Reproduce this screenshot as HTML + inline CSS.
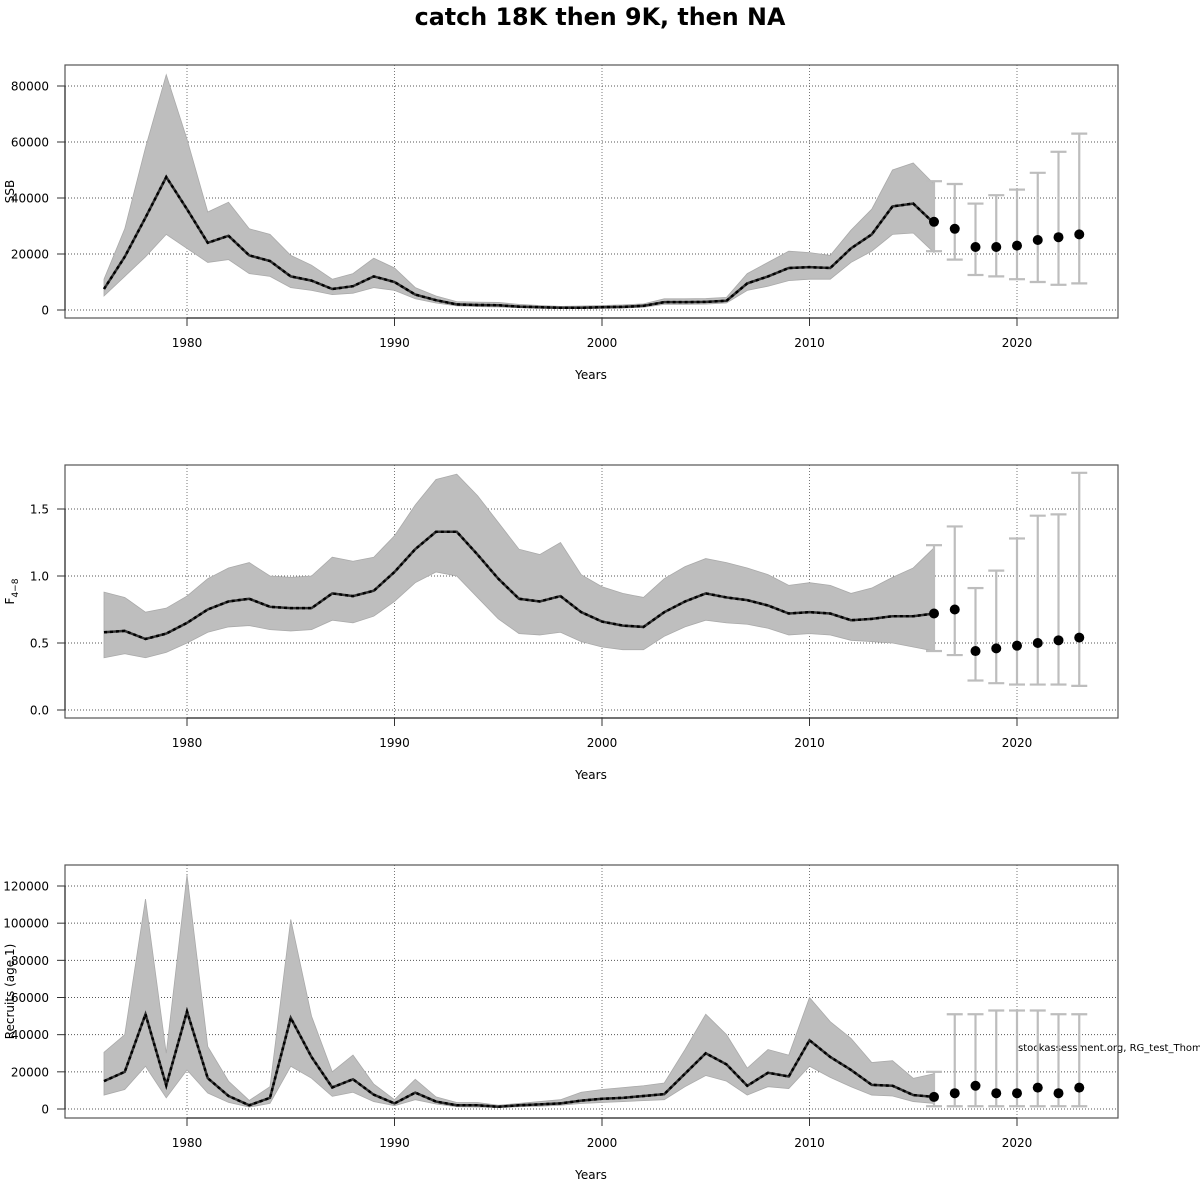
<!DOCTYPE html>
<html><head><meta charset="utf-8">
<style>
html,body{margin:0;padding:0;background:#fff;}
svg{display:block;font-family:"DejaVu Sans","Liberation Sans",sans-serif;}
</style></head>
<body>
<svg id="chart" width="1200" height="1200" viewBox="0 0 1200 1200">
<text x="600" y="25" text-anchor="middle" font-size="23.8" font-weight="bold">catch 18K then 9K, then NA</text>
<text x="1018" y="1051" font-size="10">stockassessment.org, RG_test_Thom</text>
</svg>
<script>
const years = [1976,1977,1978,1979,1980,1981,1982,1983,1984,1985,1986,1987,1988,1989,1990,1991,1992,1993,1994,1995,1996,1997,1998,1999,2000,2001,2002,2003,2004,2005,2006,2007,2008,2009,2010,2011,2012,2013,2014,2015,2016];
const projYears = [2016,2017,2018,2019,2020,2021,2022,2023];
const xTicks = [1980,1990,2000,2010,2020];

const ssbEst = [7500,19000,33000,47500,36000,24000,26500,19500,17500,12000,10500,7500,8500,12000,10000,5500,3500,2000,1800,1700,1200,1000,800,800,1000,1100,1500,2800,2800,2900,3300,9500,12000,15000,15300,15000,22000,27000,37000,38000,31000];
const ssbLo = [5000,12000,19000,27000,22000,17000,18000,13000,12000,8000,7000,5500,6000,8000,7000,4000,2500,1500,1200,1100,800,600,500,500,600,700,1000,2000,2000,2100,2500,7000,8500,10500,11000,11000,17000,21000,27000,27500,20500];
const ssbHi = [11000,29000,58000,84000,61000,35000,38500,29000,27000,19500,16000,11000,13000,18500,15000,8000,5000,3000,2800,2700,2000,1600,1300,1400,1600,1800,2200,4000,4000,4100,4500,13000,17000,21000,20500,19500,28500,36000,50000,52500,45000];
const ssbProj = [31500,29000,22500,22500,23000,25000,26000,27000];
const ssbProjLo = [21000,18000,12500,12000,11000,10000,9000,9500];
const ssbProjHi = [46000,45000,38000,41000,43000,49000,56500,63000];
const ssbTicks = [0,20000,40000,60000,80000];

const fEst = [0.58,0.59,0.53,0.57,0.65,0.75,0.81,0.83,0.77,0.76,0.76,0.87,0.85,0.89,1.03,1.2,1.33,1.33,1.16,0.98,0.83,0.81,0.85,0.73,0.66,0.63,0.62,0.73,0.81,0.87,0.84,0.82,0.78,0.72,0.73,0.72,0.67,0.68,0.7,0.7,0.72];
const fLo = [0.39,0.42,0.39,0.43,0.5,0.58,0.62,0.63,0.6,0.59,0.6,0.67,0.65,0.7,0.81,0.95,1.03,1.0,0.84,0.68,0.57,0.56,0.58,0.51,0.47,0.45,0.45,0.55,0.62,0.67,0.65,0.64,0.61,0.56,0.57,0.56,0.52,0.51,0.5,0.47,0.44];
const fHi = [0.88,0.84,0.73,0.76,0.85,0.98,1.06,1.1,1.0,0.99,1.0,1.14,1.11,1.14,1.3,1.53,1.72,1.76,1.6,1.4,1.2,1.16,1.25,1.01,0.92,0.87,0.84,0.98,1.07,1.13,1.1,1.06,1.01,0.93,0.95,0.93,0.87,0.91,0.99,1.06,1.21];
const fProj = [0.72,0.75,0.44,0.46,0.48,0.5,0.52,0.54];
const fProjLo = [0.44,0.41,0.22,0.2,0.19,0.19,0.19,0.18];
const fProjHi = [1.23,1.37,0.91,1.04,1.28,1.45,1.46,1.77];
const fTicks = [0.0,0.5,1.0,1.5];
const fTickLabels = ["0.0","0.5","1.0","1.5"];

const recEst = [15000,20000,51000,12700,52500,16600,7000,2000,6000,49000,28000,11600,16000,7700,3000,8800,4000,2000,2000,1200,2000,2500,3000,4500,5500,6000,7000,8000,19000,30000,24000,12500,19500,17500,37000,28000,21000,13000,12500,7500,6500];
const recLo = [7500,10500,23000,6000,21000,8600,3600,1000,3000,23000,16600,6800,9000,4000,1800,5000,2700,1200,1000,800,1200,1500,2000,3000,3500,4000,4500,5000,12000,18000,15000,7500,12000,11000,23000,17000,12000,7500,7000,4000,3000];
const recHi = [30500,40000,113000,30000,126000,33600,15000,4600,12000,102000,50000,20000,29000,13400,5000,16000,6500,3500,3500,2000,3000,4000,5000,9000,10500,11500,12500,14000,32000,51000,40000,22000,32000,29000,60000,47000,38000,25000,26000,16500,19000];
const recProj = [6500,8500,12500,8500,8500,11500,8500,11500];
const recProjLo = [1500,1500,1500,1500,1500,1500,1500,1500];
const recProjHi = [20000,51000,51000,53000,53000,53000,51000,51000];
const recTicks = [0,20000,40000,60000,80000,100000,120000];

const NS = "http://www.w3.org/2000/svg";
const svg = document.getElementById('chart');
function mk(tag, attrs, parent){
  const e = document.createElementNS(NS, tag);
  for (const k in attrs) e.setAttribute(k, attrs[k]);
  (parent||svg).appendChild(e);
  return e;
}
const X0 = 65, X1 = 1118;
function xs(yr){ return 187 + (yr - 1980) * 20.75; }

function panel(opt){
  const g = mk('g', {});
  
  
  const ys = v => opt.zeroY - (v - opt.zero) * opt.scale;
  xTicks.forEach(t => {
    const l = mk('line', {x1:xs(t), x2:xs(t), y1:opt.top, y2:opt.bot, stroke:'#777', 'stroke-width':1, 'stroke-dasharray':'1,2'}, g);
    
    
  });
  opt.ticks.forEach(t => {
    const l = mk('line', {x1:X0, x2:X1, y1:ys(t), y2:ys(t), stroke:'#555', 'stroke-width':1, 'stroke-dasharray':'1,2'}, g);
    
    
  });
  let pts = years.map((y,i) => xs(y)+','+ys(opt.hi[i]));
  pts = pts.concat(years.map((y,i) => xs(y)+','+ys(opt.lo[i])).reverse());
  const band = mk('polygon', {points:pts.join(' '), fill:'#bebebe', stroke:'#aaa', 'stroke-width':0.8}, g);
  
  
  const lp = years.map((y,i) => xs(y)+','+ys(opt.est[i])).join(' ');
  const l1 = mk('polyline', {points:lp, fill:'none', stroke:'#333', 'stroke-width':2.5}, g);
  
  
  const l2 = mk('polyline', {points:lp, fill:'none', stroke:'#000', 'stroke-width':2.5, 'stroke-dasharray':'3,3'}, g);
  
  
  projYears.forEach((y,i) => {
    const x = xs(y);
    const eb = mk('g', {stroke:'#bdbdbd', 'stroke-width':2.2}, g);
    
    
    mk('line', {x1:x, x2:x, y1:ys(opt.pLo[i]), y2:ys(opt.pHi[i])}, eb);
    mk('line', {x1:x-8, x2:x+8, y1:ys(opt.pLo[i]), y2:ys(opt.pLo[i])}, eb);
    mk('line', {x1:x-8, x2:x+8, y1:ys(opt.pHi[i]), y2:ys(opt.pHi[i])}, eb);
  });
  projYears.forEach((y,i) => {
    const c = mk('circle', {cx:xs(y), cy:ys(opt.proj[i]), r:5, fill:'#000'}, g);
    
    
  });
  const box = mk('rect', {x:X0, y:opt.top, width:X1-X0, height:opt.bot-opt.top, fill:'none', stroke:'#555', 'stroke-width':1.2}, g);
  
  
  const xa = mk('g', {}, g);
  
  
  mk('line', {x1:xs(xTicks[0]), x2:xs(xTicks[xTicks.length-1]), y1:opt.bot, y2:opt.bot, stroke:'#333', 'stroke-width':1.2}, xa);
  xTicks.forEach(t => {
    mk('line', {x1:xs(t), x2:xs(t), y1:opt.bot, y2:opt.bot+8, stroke:'#333', 'stroke-width':1}, xa);
    const tx = mk('text', {x:xs(t), y:opt.bot+29, 'font-size':12, 'text-anchor':'middle'}, xa);
    tx.textContent = t;
    
    
  });
  const xt = mk('text', {x:591, y:opt.bot+61, 'font-size':12, 'text-anchor':'middle'}, xa);
  xt.textContent = 'Years';
  
  
  const ya = mk('g', {}, g);
  
  
  mk('line', {x1:X0, x2:X0, y1:ys(opt.ticks[0]), y2:ys(opt.ticks[opt.ticks.length-1]), stroke:'#333', 'stroke-width':1.2}, ya);
  opt.ticks.forEach((t,i) => {
    mk('line', {x1:X0-8, x2:X0, y1:ys(t), y2:ys(t), stroke:'#333', 'stroke-width':1}, ya);
    const tx = mk('text', {x:49, y:ys(t)+4.5, 'font-size':12, 'text-anchor':'end'}, ya);
    tx.textContent = opt.labels ? opt.labels[i] : t;
    
    
  });
  const cy = (opt.top + opt.bot)/2;
  const yt = mk('text', {x:0, y:0, 'font-size':12, 'text-anchor':'middle', transform:'translate(14,'+cy+') rotate(-90)'}, ya);
  
  
  if (opt.sub) {
    const a = mk('tspan', {}, yt); a.textContent = opt.ytitle;
    const b = mk('tspan', {'font-size':9, dy:4}, yt); b.textContent = opt.sub;
  } else yt.textContent = opt.ytitle;
}

panel({name:'ssb', top:65, bot:318, zero:0, zeroY:310, scale:224/80000, ticks:ssbTicks, est:ssbEst, lo:ssbLo, hi:ssbHi, proj:ssbProj, pLo:ssbProjLo, pHi:ssbProjHi, ytitle:'SSB'});
panel({name:'fbar', top:465, bot:718, zero:0, zeroY:710, scale:134, ticks:fTicks, labels:fTickLabels, est:fEst, lo:fLo, hi:fHi, proj:fProj, pLo:fProjLo, pHi:fProjHi, ytitle:'F', sub:'4\u22128'});
panel({name:'recruits', top:865, bot:1118, zero:0, zeroY:1109, scale:223/120000, ticks:recTicks, est:recEst, lo:recLo, hi:recHi, proj:recProj, pLo:recProjLo, pHi:recProjHi, ytitle:'Recruits (age 1)'});
</script>
</body></html>
